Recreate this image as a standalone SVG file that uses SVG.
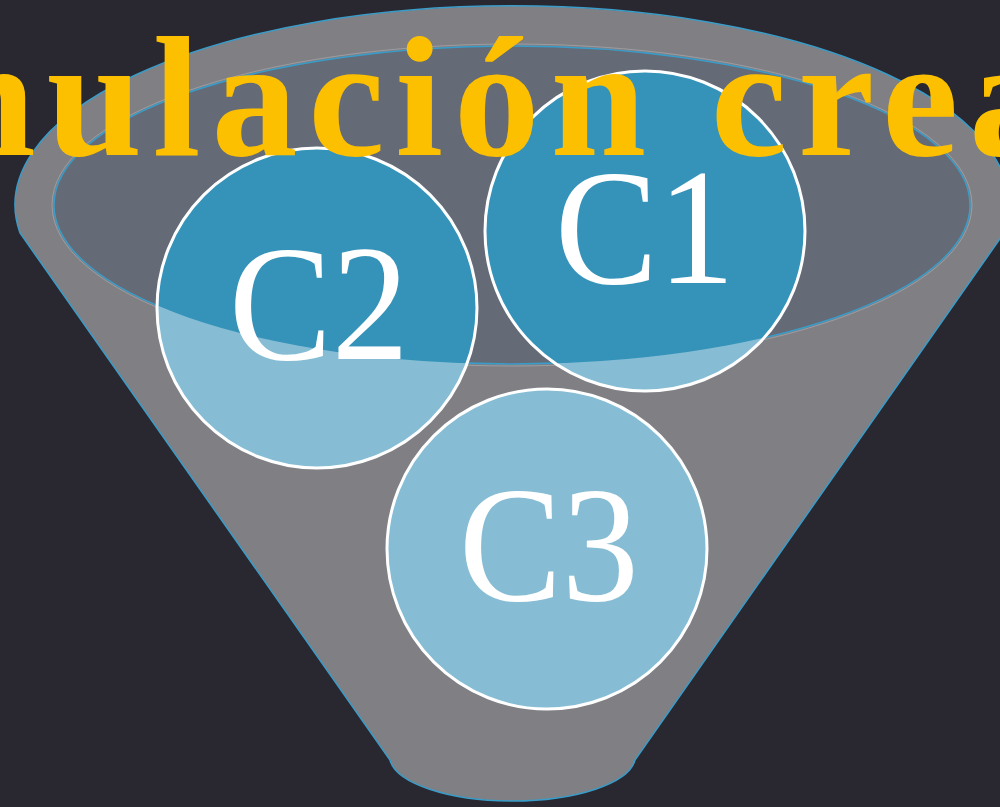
<svg xmlns="http://www.w3.org/2000/svg" width="1000" height="807" viewBox="0 0 1000 807">
<style>
.funnel{fill:#7f7f84;stroke:#3a9cc8;stroke-width:1.5}
.rim{fill:#646a76;stroke:#3a9cc8;stroke-width:1.5}
.c-light{fill:#86bdd4}
.c-dark{fill:#3593b9}
.c-ring{fill:none;stroke:#ffffff;stroke-width:3}
.lbl{font-family:"Liberation Serif","Times New Roman",serif;font-size:166px;fill:#ffffff;text-anchor:middle}
.title{font-family:"Liberation Serif","Times New Roman",serif;font-weight:bold;font-size:172px;fill:#fdc000}
</style>
<defs>
<clipPath id="rimClip"><ellipse cx="512" cy="205" rx="458" ry="159"/></clipPath>
</defs>
<rect width="1000" height="807" fill="#29272f"/>
<g id="funnel">
<path class="funnel" d="M20,233 A497,199 0 1 1 1004,233 L635,760 A123,45 0 0 1 390,760 Z"/>
<ellipse cx="512" cy="205" rx="460" ry="161" fill="none" stroke="#b0b0b4" stroke-width="1" opacity="0.6"/>
<ellipse class="rim" cx="512" cy="205" rx="458" ry="159"/>
</g>
<g id="connectors"></g>
<g id="C2">
<circle class="c-light" cx="317" cy="308" r="160"/>
<circle class="c-dark" cx="317" cy="308" r="160" clip-path="url(#rimClip)"/>
<circle class="c-ring" cx="317" cy="308" r="160"/>
<text class="lbl" x="319" y="359" textLength="180" lengthAdjust="spacingAndGlyphs">C2</text>
</g>
<g id="C1">
<circle class="c-light" cx="645" cy="231" r="160"/>
<circle class="c-dark" cx="645" cy="231" r="160" clip-path="url(#rimClip)"/>
<circle class="c-ring" cx="645" cy="231" r="160"/>
<text class="lbl" x="645" y="283" textLength="180" lengthAdjust="spacingAndGlyphs">C1</text>
</g>
<g id="C3">
<circle class="c-light" cx="547" cy="549" r="160"/>
<circle class="c-ring" cx="547" cy="549" r="160"/>
<text class="lbl" x="549" y="600" textLength="180" lengthAdjust="spacingAndGlyphs">C3</text>
</g>
<g id="title">
<text class="title" x="-60" y="155" textLength="1115" lengthAdjust="spacing">nulación crea</text>
</g>
</svg>
